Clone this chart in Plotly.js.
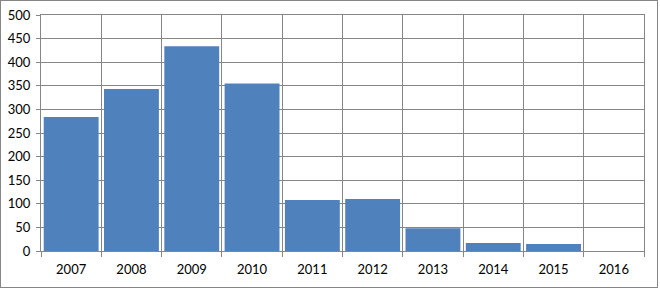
<!DOCTYPE html>
<html>
<head>
<meta charset="utf-8">
<script src="https://cdn.plot.ly/plotly-3.0.1.min.js"></script>
<style>
  html, body { margin: 0; padding: 0; background: #ffffff; }
  #wrap { position: relative; width: 660px; height: 289px; }
  #chart { width: 660px; height: 289px; }
  #frame { position: absolute; left: 0; top: 0; width: 656px; height: 286px;
           border: 1px solid #868686; pointer-events: none; }
</style>
</head>
<body>
<div id="wrap">
  <div id="chart"></div>
  <div id="frame"></div>
</div>
<script>
const years = ['2007','2008','2009','2010','2011','2012','2013','2014','2015','2016'];
const values = [284, 343, 434, 355, 108, 110, 48, 17, 15, 0];
const yTicks = [0, 50, 100, 150, 200, 250, 300, 350, 400, 450, 500];

const trace = {
  type: 'bar',
  x: years,
  y: values,
  marker: { color: '#4F81BD', line: { width: 0 } },
  hoverinfo: 'x+y'
};

const layout = {
  width: 660,
  height: 289,
  margin: { l: 41, r: 16, t: 15, b: 38 },
  paper_bgcolor: '#ffffff',
  plot_bgcolor: '#ffffff',
  bargap: 0.09,
  showlegend: false,
  font: { family: 'Lato, "Open Sans", sans-serif', size: 13, color: '#000000' },
  xaxis: {
    type: 'category',
    tickson: 'boundaries',
    ticks: 'outside',
    ticklen: 5,
    tickcolor: '#868686',
    ticklabelstandoff: 6,
    showgrid: true,
    gridcolor: '#868686',
    gridwidth: 1,
    showline: true,
    linecolor: '#868686',
    linewidth: 1,
    mirror: true,
    tickfont: { family: 'Lato, "Open Sans", sans-serif', size: 13, color: '#000000' },
    fixedrange: true
  },
  yaxis: {
    range: [0, 500],
    tickvals: yTicks,
    ticktext: yTicks.map(String),
    ticks: 'outside',
    ticklen: 4,
    tickcolor: '#868686',
    ticklabelstandoff: 3,
    showgrid: true,
    gridcolor: '#868686',
    gridwidth: 1,
    zeroline: false,
    showline: true,
    linecolor: '#868686',
    linewidth: 1,
    mirror: true,
    tickfont: { family: 'Lato, "Open Sans", sans-serif', size: 13, color: '#000000' },
    fixedrange: true
  }
};

Plotly.newPlot('chart', [trace], layout, { displayModeBar: false, staticPlot: true });
</script>
</body>
</html>
